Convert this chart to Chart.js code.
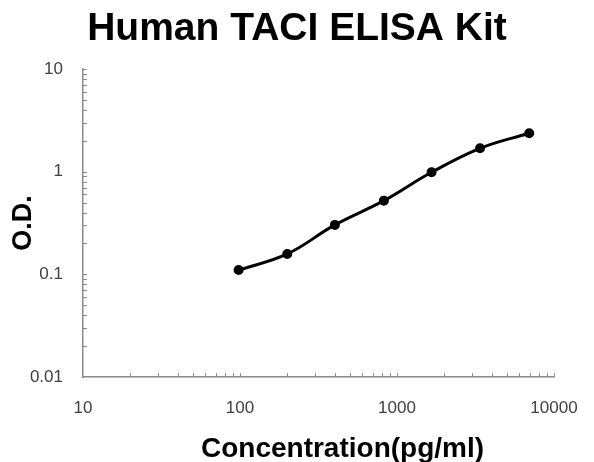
<!DOCTYPE html>
<html>
<head>
<meta charset="utf-8">
<script src="https://cdn.jsdelivr.net/npm/chart.js@4.4.1/dist/chart.umd.min.js"></script>
<style>
  html, body { margin: 0; padding: 0; background: #fff; }
  #wrap { width: 594px; height: 462px; }
</style>
</head>
<body>
<div id="wrap"><canvas id="elisaChart" width="594" height="462"></canvas></div>
<script>
/* Human TACI ELISA Kit — standard curve */

const concentration = [98, 200, 402, 825, 1660, 3380, 6950];
const opticalDensity = [0.110, 0.158, 0.303, 0.522, 0.986, 1.69, 2.37];
const xMajorTicks = [10, 100, 1000, 10000];
const yMajorTicks = [0.01, 0.1, 1, 10];
const xAxisTitle = 'Concentration(pg/ml)';

const fontFamily = 'Liberation Sans, Arial, sans-serif';
const axisGray = '#8a8a8a';
const labelGray = '#404040';

// small tick marks pointing into the plot, like the original sheet
const innerTicks = {
    id: 'innerTicks',
    afterDraw(chart) {
        const { ctx, chartArea, scales } = chart;
        ctx.save();
        ctx.strokeStyle = axisGray;
        ctx.lineWidth = 1;
        ctx.beginPath();
        for (let d = 10; d < 10000; d *= 10) {
            for (let m = 2; m <= 10; m++) {
                const x = Math.round(scales.x.getPixelForValue(d * m)) + 0.5;
                ctx.moveTo(x, chartArea.bottom);
                ctx.lineTo(x, chartArea.bottom - 4);
            }
        }
        for (let d = 0.01; d < 9; d *= 10) {
            for (let m = 2; m <= 10; m++) {
                const y = Math.round(scales.y.getPixelForValue(d * m)) + 0.5;
                ctx.moveTo(chartArea.left, y);
                ctx.lineTo(chartArea.left + 4, y);
            }
        }
        ctx.stroke();
        ctx.restore();
    },
};

// x axis title sits a bit right of the plot centre in the original
const xTitle = {
    id: 'xTitle',
    afterDraw(chart) {
        const { ctx, chartArea } = chart;
        ctx.save();
        ctx.fillStyle = '#000';
        ctx.font = 'bold 28px ' + fontFamily;
        ctx.textAlign = 'center';
        ctx.textBaseline = 'middle';
        ctx.fillText(xAxisTitle, (chartArea.left + chartArea.right) / 2 + 24, chart.height - 13);
        ctx.restore();
    },
};

new Chart(document.getElementById('elisaChart'), {
    type: 'line',
    data: {
        datasets: [{
            data: concentration.map((c, i) => ({ x: c, y: opticalDensity[i] })),
            borderColor: '#000',
            backgroundColor: '#000',
            borderWidth: 3,
            pointRadius: 3.5,
            pointBackgroundColor: '#000',
            tension: 0.4,
        }],
    },
    options: {
        responsive: false,
        animation: false,
        layout: { padding: { left: 5, right: 5, top: 0, bottom: 0 } },
        plugins: {
            legend: { display: false },
            tooltip: { enabled: false },
            title: {
                display: true,
                text: 'Human TACI ELISA Kit',
                color: '#000',
                font: { family: fontFamily, size: 39, weight: 'bold' },
                padding: { top: 6, bottom: 16.2 },
            },
        },
        scales: {
            x: {
                type: 'logarithmic',
                min: 10,
                max: 10000,
                afterBuildTicks(scale) {
                    scale.ticks = xMajorTicks.map(v => ({ value: v }));
                },
                afterFit(scale) {
                    scale.height = 85;
                    scale.paddingRight = 40;
                },
                ticks: {
                    color: labelGray,
                    font: { family: fontFamily, size: 17 },
                    padding: 21,
                    maxRotation: 0,
                    autoSkip: false,
                    callback: v => String(v),
                },
                grid: { display: false, drawTicks: false },
                border: { color: axisGray, width: 1.5 },
            },
            y: {
                type: 'logarithmic',
                min: 0.01,
                max: 10,
                afterBuildTicks(scale) {
                    scale.ticks = yMajorTicks.map(v => ({ value: v }));
                },
                afterFit(scale) { scale.width = 78; },
                ticks: {
                    color: labelGray,
                    font: { family: fontFamily, size: 17 },
                    padding: 20,
                    autoSkip: false,
                    callback: v => String(v),
                },
                grid: { display: false, drawTicks: false },
                border: { color: axisGray, width: 1.5 },
                title: {
                    display: true,
                    text: 'O.D.',
                    color: '#000',
                    font: { family: fontFamily, size: 27, weight: 'bold' },
                    padding: { top: 2, bottom: 0 },
                },
            },
        },
    },
    plugins: [innerTicks, xTitle],
});
</script>
</body>
</html>
